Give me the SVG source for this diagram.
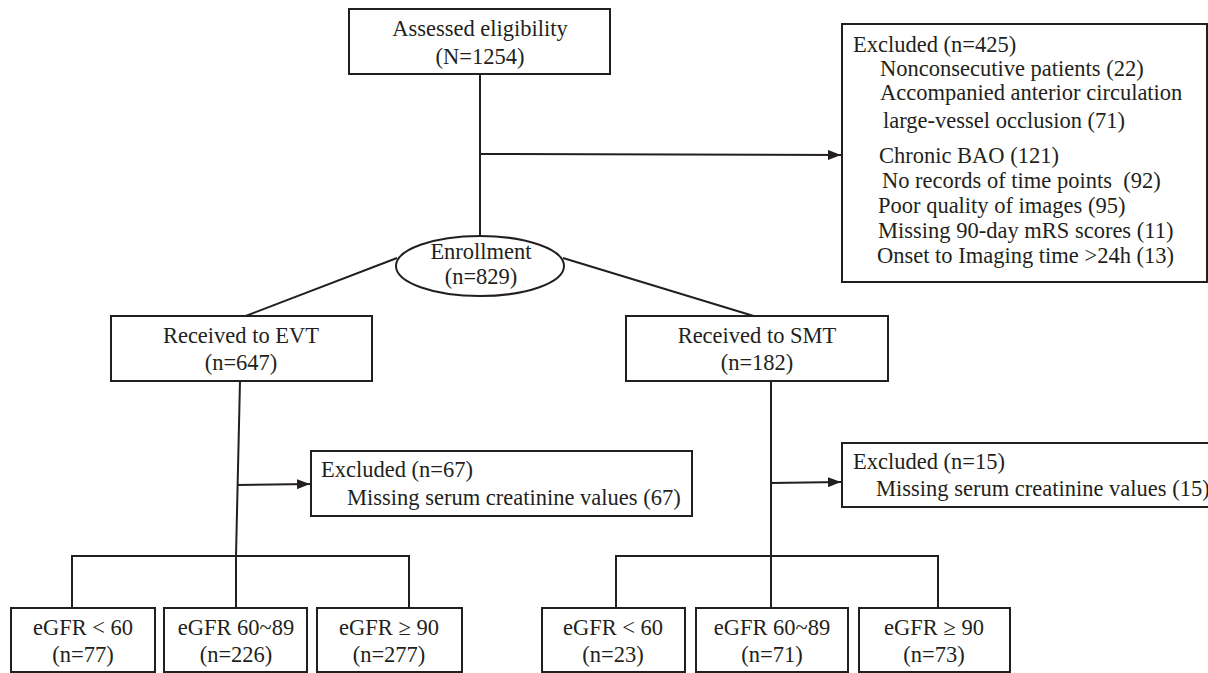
<svg xmlns="http://www.w3.org/2000/svg" width="1208" height="673" viewBox="0 0 1208 673">
<style>
  .box { fill: #fff; stroke: #231f20; stroke-width: 2; }
  .ln { fill: none; stroke: #231f20; stroke-width: 2; }
  .c { text-anchor: middle; }
</style>
<defs>
  <marker id="arr" viewBox="0 0 13 10" refX="13" refY="5" markerWidth="13" markerHeight="10" markerUnits="userSpaceOnUse" orient="auto">
    <path d="M0,0 L13,5 L0,10 Z" fill="#231f20"/>
  </marker>
</defs>
<rect width="1208" height="673" fill="#fff"/>
<g id="connectors">
  <line class="ln" x1="480" y1="74" x2="480" y2="237"/>
  <line class="ln" x1="480" y1="154" x2="841" y2="155" marker-end="url(#arr)"/>
  <line class="ln" x1="397" y1="258" x2="243" y2="317"/>
  <line class="ln" x1="563" y1="258" x2="757" y2="317"/>
  <line class="ln" x1="240" y1="381" x2="236" y2="556"/>
  <line class="ln" x1="237" y1="485" x2="310" y2="484" marker-end="url(#arr)"/>
  <polyline class="ln" points="72,608 72,556 409,556 409,608"/>
  <line class="ln" x1="236" y1="556" x2="236" y2="608"/>
  <line class="ln" x1="771" y1="381" x2="771" y2="608"/>
  <line class="ln" x1="771" y1="483" x2="841" y2="482" marker-end="url(#arr)"/>
  <polyline class="ln" points="616,608 616,556 938,556 938,608"/>
</g>
<g font-family="Liberation Serif" font-size="22.5" fill="#231f20">
<g id="assessed">
  <rect class="box" x="349" y="9" width="261" height="65"/>
  <text class="c" x="480" y="36">Assessed eligibility</text>
  <text class="c" x="480" y="64">(N=1254)</text>
</g>
<g id="excluded-425">
  <rect class="box" x="842" y="24" width="365" height="258"/>
  <text x="853" y="52">Excluded (n=425)</text>
  <text x="880" y="76">Nonconsecutive patients (22)</text>
  <text x="880" y="100">Accompanied anterior circulation</text>
  <text x="883" y="128">large-vessel occlusion (71)</text>
  <text x="879" y="163">Chronic BAO (121)</text>
  <text x="882" y="188" xml:space="preserve">No records of time points  (92)</text>
  <text x="878" y="213">Poor quality of images (95)</text>
  <text x="878" y="238">Missing 90-day mRS scores (11)</text>
  <text x="877" y="263">Onset to Imaging time &gt;24h (13)</text>
</g>
<g id="enrollment">
  <ellipse class="box" cx="480" cy="266" rx="84" ry="30"/>
  <text class="c" x="481" y="259">Enrollment</text>
  <text class="c" x="481" y="284">(n=829)</text>
</g>
<g id="evt">
  <rect class="box" x="111" y="316" width="261" height="65"/>
  <text class="c" x="241" y="343">Received to EVT</text>
  <text class="c" x="241" y="370">(n=647)</text>
</g>
<g id="smt">
  <rect class="box" x="626" y="316" width="262" height="65"/>
  <text class="c" x="757" y="343">Received to SMT</text>
  <text class="c" x="757" y="370">(n=182)</text>
</g>
<g id="excluded-67">
  <rect class="box" x="311" y="451" width="381" height="65"/>
  <text x="321" y="477">Excluded (n=67)</text>
  <text x="347" y="505">Missing serum creatinine values (67)</text>
</g>
<g id="excluded-15">
  <rect class="box" x="842" y="443" width="370" height="64"/>
  <text x="853" y="469">Excluded (n=15)</text>
  <text x="876" y="496">Missing serum creatinine values (15)</text>
</g>
<g id="evt-lt60">
  <rect class="box" x="11" y="608" width="144" height="64"/>
  <text class="c" x="83" y="635">eGFR &lt; 60</text>
  <text class="c" x="83" y="662">(n=77)</text>
</g>
<g id="evt-60-89">
  <rect class="box" x="164" y="608" width="143" height="64"/>
  <text class="c" x="236" y="635">eGFR 60~89</text>
  <text class="c" x="236" y="662">(n=226)</text>
</g>
<g id="evt-ge90">
  <rect class="box" x="317" y="608" width="145" height="64"/>
  <text class="c" x="389" y="635">eGFR ≥ 90</text>
  <text class="c" x="389" y="662">(n=277)</text>
</g>
<g id="smt-lt60">
  <rect class="box" x="542" y="608" width="143" height="64"/>
  <text class="c" x="613" y="635">eGFR &lt; 60</text>
  <text class="c" x="613" y="662">(n=23)</text>
</g>
<g id="smt-60-89">
  <rect class="box" x="696" y="608" width="152" height="64"/>
  <text class="c" x="772" y="635">eGFR 60~89</text>
  <text class="c" x="772" y="662">(n=71)</text>
</g>
<g id="smt-ge90">
  <rect class="box" x="859" y="608" width="151" height="64"/>
  <text class="c" x="934" y="635">eGFR ≥ 90</text>
  <text class="c" x="934" y="662">(n=73)</text>
</g>
</g>
</svg>
